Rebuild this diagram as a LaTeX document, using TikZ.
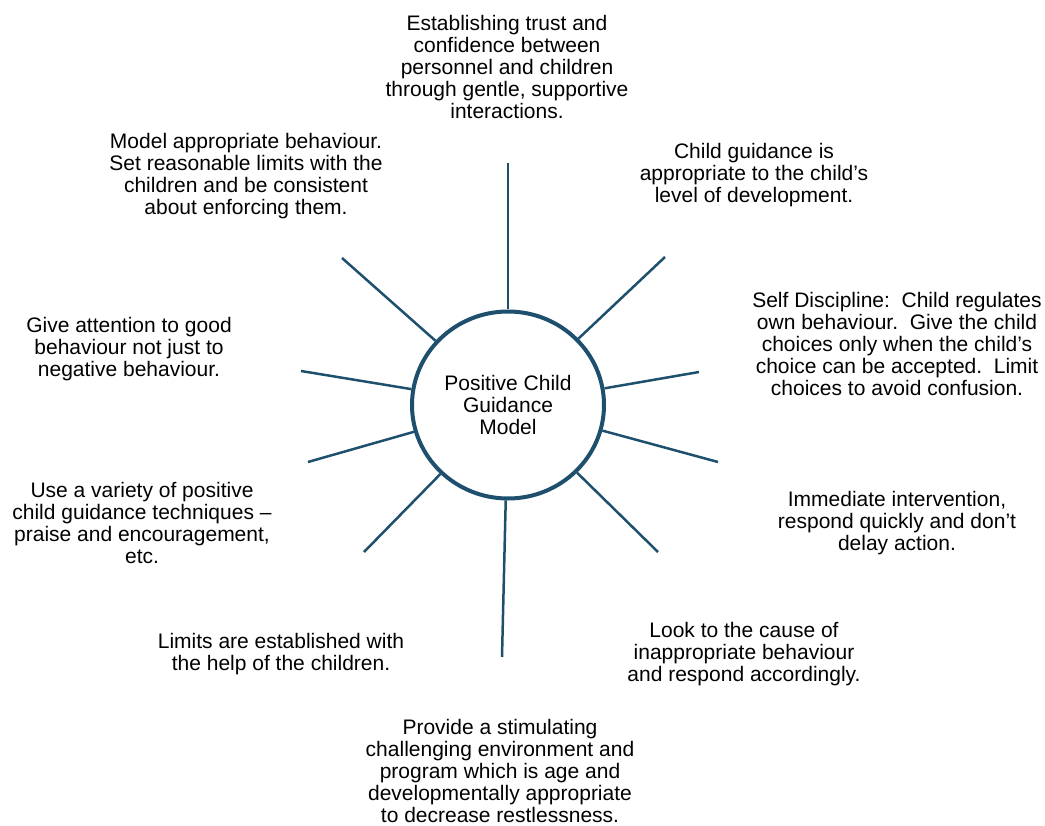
\documentclass[tikz,border=0pt]{standalone}
\usepackage{fontspec}
\setmainfont{Liberation Sans}
\usetikzlibrary{shapes.geometric}
\definecolor{spokeblue}{RGB}{30,80,110}
\tikzset{
  lbl/.style={align=center, inner sep=0pt, font=\fontsize{21}{22}\selectfont, text=black},
  hub/.style={ellipse, draw=spokeblue, line width=4pt, fill=white, minimum width=192pt, minimum height=187pt, inner sep=0pt, align=center, font=\fontsize{21}{22}\selectfont},
  spoke/.style={draw=spokeblue, line width=2.5pt}
}
\begin{document}
\frenchspacing
\begin{tikzpicture}[x=1pt,y=-1pt]
\useasboundingbox (0,0) rectangle (1045,826);
\node[hub] (c) at (508,405) {Positive Child\\Guidance\\Model};
% spoke outer ends
\coordinate (p1) at (508,163);
\coordinate (p2) at (665,257);
\coordinate (p3) at (699,372);
\coordinate (p4) at (718,462);
\coordinate (p5) at (658,552);
\coordinate (p6) at (502,657);
\coordinate (p7) at (364,552);
\coordinate (p8) at (308,462);
\coordinate (p9) at (301,371);
\coordinate (p10) at (342,258);
\foreach \i in {1,...,10} { \draw[spoke] (c) -- (p\i); }
% labels
\node[lbl] (t1) at (507,67) {Establishing trust and\\confidence between\\personnel and children\\through gentle, supportive\\interactions.};
\node[lbl] (t2) at (754,175) {Child guidance is\\appropriate to the child’s\\level of development.};
\node[lbl] (t3) at (897,344) {Self Discipline:\ \ Child regulates\\own behaviour.\ \ Give the child\\choices only when the child’s\\choice can be accepted.\ \ Limit\\choices to avoid confusion.};
\node[lbl] (t4) at (897,523) {Immediate intervention,\\respond quickly and don’t\\delay action.};
\node[lbl] (t5) at (744,654) {Look to the cause of\\inappropriate behaviour\\and respond accordingly.};
\node[lbl] (t6) at (500,771) {Provide a stimulating\\challenging environment and\\program which is age and\\developmentally appropriate\\to decrease restlessness.};
\node[lbl] (t7) at (281,654) {Limits are established with\\the help of the children.};
\node[lbl] (t8) at (142,523) {Use a variety of positive\\child guidance techniques –\\praise and encouragement,\\etc.};
\node[lbl] (t9) at (129,349) {Give attention to good\\behaviour not just to\\negative behaviour.};
\node[lbl] (t10) at (246,176) {Model appropriate behaviour.\\Set reasonable limits with the\\children and be consistent\\about enforcing them.};
\end{tikzpicture}
\end{document}
